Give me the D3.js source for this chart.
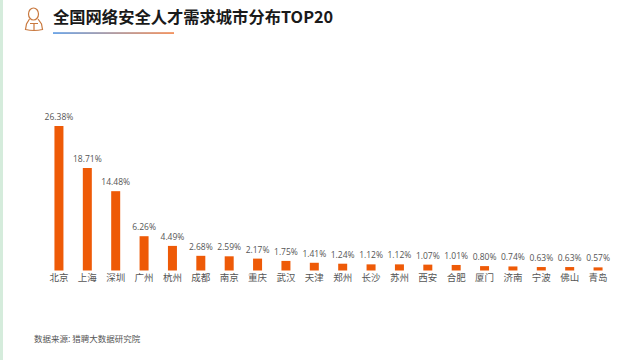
<!DOCTYPE html>
<html><head><meta charset="utf-8">
<script src="https://cdn.jsdelivr.net/npm/d3@7/dist/d3.min.js"></script>
<style>html,body{margin:0;padding:0;background:#fff;overflow:hidden}svg{display:block}
text{font-family:"Noto Sans CJK SC","Noto Sans",sans-serif}</style></head>
<body><svg id="c" width="640" height="360"></svg>
<script>
const cities=["北京","上海","深圳","广州","杭州","成都","南京","重庆","武汉","天津","郑州","长沙","苏州","西安","合肥","厦门","济南","宁波","佛山","青岛"];
const shares=[26.38,18.71,14.48,6.26,4.49,2.68,2.59,2.17,1.75,1.41,1.24,1.12,1.12,1.07,1.01,0.80,0.74,0.63,0.63,0.57];
const titleText="全国网络安全人才需求城市分布TOP20";
const sourceText="数据来源: 猎聘大数据研究院";

const svg=d3.select("#c");
svg.append("rect").attr("x",0).attr("y",0).attr("width",3).attr("height",360).attr("fill","#d5ecdc");

const defs=svg.append("defs");
const g=defs.append("linearGradient").attr("id","ul");
g.append("stop").attr("offset","0").attr("stop-color","#4a8fe0");
g.append("stop").attr("offset","1").attr("stop-color","#f0793a");
svg.append("rect").attr("x",53).attr("y",32.3).attr("width",121).attr("height",1.5).attr("fill","url(#ul)");

svg.append("text").attr("x",53).attr("y",23).attr("font-size",16.3).attr("font-weight",700).attr("fill","#1a1a1a").text(titleText);

const ic=svg.append("g").attr("fill","none").attr("stroke","#c9793f").attr("stroke-width",1.2);
ic.append("ellipse").attr("cx",33.5).attr("cy",14).attr("rx",5).attr("ry",6);
ic.append("path").attr("d","M29.5 19 L26.5 24 L25.5 29.5 Q34 31.5 42.5 29.5 L41.5 24 L38 19");
ic.append("path").attr("d","M30 23.5 L38 23.5 M34 23.5 L34 30");

const x=d3.scaleBand().domain(cities).range([44.8,612.2]).paddingInner(0.683).paddingOuter(0.34);
const y=d3.scaleLinear().domain([0,26.38]).range([270.5,126]);

svg.selectAll("rect.bar").data(shares).enter().append("rect").attr("class","bar")
 .attr("x",(d,i)=>x(cities[i])).attr("width",x.bandwidth())
 .attr("y",d=>y(d)).attr("height",d=>y(0)-y(d)).attr("fill","#ee5a07");

svg.selectAll("text.val").data(shares).enter().append("text").attr("class","val")
 .attr("x",(d,i)=>x(cities[i])+x.bandwidth()/2).attr("y",d=>y(d)-6)
 .attr("text-anchor","middle").attr("font-size",8.5).attr("fill","#555")
 .style("font-family",'"Open Sans",sans-serif').text(d=>d.toFixed(2)+"%");

const axis=d3.axisBottom(x).tickSize(0).tickPadding(0);
const ax=svg.append("g").attr("transform","translate(0,273.5)").call(axis);
ax.select(".domain").remove();
ax.selectAll("text").attr("font-size",9.5).attr("fill","#555").attr("dy","0.8em")
 .style('font-family','"Noto Sans CJK SC",sans-serif');

svg.append("text").attr("x",34).attr("y",342).attr("font-size",8.5).attr("fill","#555").text(sourceText);
</script></body></html>
